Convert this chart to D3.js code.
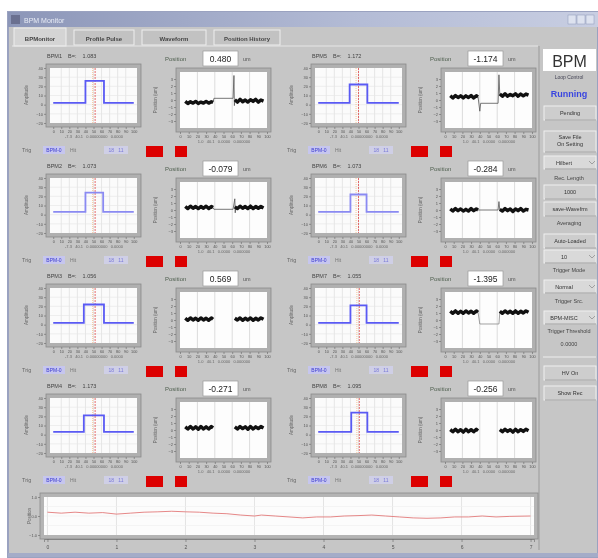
<!DOCTYPE html>
<html>
<head>
<meta charset="utf-8">
<script src="https://cdn.jsdelivr.net/npm/d3@7"></script>
<style>
body { margin: 0; background: #fff; }
svg { display: block; filter: blur(0.4px); }
text { font-family: "Liberation Sans", Arial, sans-serif; }
</style>
</head>
<body>
<div id="chart"></div>
<script>
// ---- data ----
const tabNames = ['BPMonitor', 'Profile Pulse', 'Waveform', 'Position History'];
const bpmNames = ['BPM1', 'BPM5', 'BPM2', 'BPM6', 'BPM3', 'BPM7', 'BPM4', 'BPM8'];
const bpmGain = ['1.083', '1.172', '1.073', '1.073', '1.056', '1.055', '1.173', '1.095'];
const positions = ['0.480', '-1.174', '-0.079', '-0.284', '0.569', '-1.395', '-0.271', '-0.256'];

// profile step (amplitude units), edges in sample units
const profileLow = [2, 2, 3, 3, 2, 2, 3, 3];
const profileHigh = [26, 22, 24, 22, 22, 21, 21, 24];
const riseX = [40, 39, 40, 40, 38, 40, 38, 41];
const fallX = [63, 61, 62, 60, 63, 60, 63, 61];
const markerX = [52, 50, 52, 50, 52, 51, 52, 51];
const profileYTicks = [40, 30, 20, 10, 0, -10, -20];
const profileXTicks = [0, 10, 20, 30, 40, 50, 60, 70, 80, 90, 100];

// position traces (um)
const leftX = [6, 9, 12, 15, 18, 21, 24, 27, 30, 33, 36, 38];
const rightX = [63, 66, 69, 72, 75, 78, 81, 84, 87, 90, 93, 96];
const posLeft = [
  [-0.2, -0.5, -0.25, -0.45, -0.2, -0.5, -0.3, -0.45, -0.2, -0.45, -0.25, -0.35],
  [0.6, 0.3, 0.65, 0.35, 0.6, 0.3, 0.6, 0.35, 0.65, 0.3, 0.6, 0.45],
  [0.5, 0.2, 0.55, 0.25, 0.5, 0.2, 0.5, 0.25, 0.55, 0.2, 0.5, 0.35],
  [0.15, -0.15, 0.2, -0.1, 0.15, -0.15, 0.1, -0.15, 0.2, -0.1, 0.15, 0.0],
  [0.25, -0.05, 0.3, 0.0, 0.25, -0.05, 0.3, 0.0, 0.25, -0.05, 0.3, 0.1],
  [1.25, 0.95, 1.3, 0.95, 1.25, 0.95, 1.3, 1.0, 1.25, 0.95, 1.3, 1.1],
  [0.45, 0.15, 0.5, 0.15, 0.45, 0.1, 0.5, 0.15, 0.45, 0.15, 0.5, 0.3],
  [0.05, -0.25, 0.1, -0.25, 0.05, -0.3, 0.1, -0.25, 0.05, -0.25, 0.1, -0.1]
];
const posRight = [
  [0.05, -0.3, 0.1, -0.25, 0.0, -0.3, 0.05, -0.2, 0.1, -0.3, 0.0, -0.15],
  [0.85, 0.55, 0.9, 0.55, 0.8, 0.6, 0.9, 0.55, 0.85, 0.6, 0.85, 0.7],
  [0.45, 0.2, 0.55, 0.25, 0.5, 0.2, 0.55, 0.2, 0.5, 0.25, 0.5, 0.3],
  [0.1, -0.15, 0.2, -0.1, 0.15, -0.2, 0.15, -0.1, 0.2, -0.15, 0.1, 0.0],
  [0.25, 0.0, 0.3, -0.05, 0.25, 0.0, 0.3, -0.05, 0.25, 0.0, 0.3, 0.1],
  [1.25, 0.95, 1.3, 1.0, 1.25, 0.95, 1.3, 0.95, 1.25, 1.0, 1.3, 1.1],
  [0.45, 0.15, 0.5, 0.2, 0.45, 0.1, 0.5, 0.15, 0.45, 0.2, 0.5, 0.3],
  [0.05, -0.25, 0.1, -0.2, 0.05, -0.3, 0.1, -0.25, 0.05, -0.2, 0.1, -0.1]
];
// thin trace between the two beam segments ([sample, um])
const posBridge = [
  [[38, -0.33], [39, 0.24], [61, 0.24], [62, 3.5], [62.5, -0.8], [63, -0.1]],
  [[38, 0.45], [40, -1.6], [41, -0.47], [61, -0.47], [62, 3.6], [63, 0.7]],
  [[38, 0.35], [39, 0.1], [61, 0.1], [63, 1.6], [63.5, -0.4], [64, 0.35]],
  [[38, 0.0], [61, 0.0], [62, 1.2], [63, 0.0]],
  [],
  [[38, 1.1], [40, -0.57], [62, -0.57], [63, 1.1]],
  [],
  []
];
const posYTicks = [3, 2, 1, 0, -1, -2, -3];
const posXTicks = [0, 10, 20, 30, 40, 50, 60, 70, 80, 90, 100];

// history strip at the bottom
const histX = [0, 0.2, 0.4, 0.6, 0.8, 1.0, 1.2, 1.4, 1.6, 1.8, 2.0, 2.2, 2.4, 2.6, 2.8, 3.0,
  3.1, 3.3, 3.5, 3.7, 3.9, 4.1, 4.3, 4.5, 4.7, 4.9, 5.1, 5.3, 5.5, 5.7, 5.9, 6.1, 6.3, 6.5, 6.7, 7.0];
const histY = [0.2, 0.15, 0.2, 0.15, 0.18, 0.1, 0.15, 0.2, 0.22, 0.25, 0.22, 0.2, 0.15, 0.12, 0.05, 0.0,
  0.05, 0.0, -0.05, -0.1, -0.05, -0.05, 0.0, 0.02, 0.05, 0.0, -0.05, -0.1, -0.12, -0.1, -0.05, -0.05, 0.0, -0.05, -0.02, 0.0];
const histTicks = [0, 1, 2, 3, 4, 5, 6, 7];

// side controls
const sideItems = [
  ['button', 'Pending'], ['button2', 'Save File|On Setting'], ['combo', 'Hilbert'],
  ['label', 'Rec. Length'], ['button', '1000'], ['button', 'save-Wavefrm'],
  ['label', 'Averaging'], ['button', 'Auto-Loaded'], ['combo', '10'],
  ['label', 'Trigger Mode'], ['combo', 'Normal'], ['label', 'Trigger Src.'],
  ['combo', 'BPM-MISC'], ['label', 'Trigger Threshold'], ['label', '0.0000'],
  ['sep', ''], ['button', 'HV On'], ['button', 'Show Rec']
];
const sideY = [106, 131, 156, 180, 185, 202, 225, 234, 250, 272, 280, 303, 311, 333, 346, 357, 366, 386];

const W = 598, H = 558;
const svg = d3.select('#chart').append('svg').attr('width', W).attr('height', H);

const defs = svg.append('defs');
const tg = defs.append('linearGradient').attr('id', 'titleGrad');
tg.append('stop').attr('offset', '0%').attr('stop-color', '#8c96b8');
tg.append('stop').attr('offset', '60%').attr('stop-color', '#b4bcd6');
tg.append('stop').attr('offset', '100%').attr('stop-color', '#c8cee2');

// window
svg.append('rect').attr('width', W).attr('height', H).attr('fill', '#fff');
svg.append('rect').attr('x', 8).attr('y', 12).attr('width', 590).attr('height', 545)
  .attr('fill', '#c6c6c6').attr('stroke', '#9aa2c0').attr('stroke-width', 2);
svg.append('rect').attr('x', 8).attr('y', 12).attr('width', 590).attr('height', 15).attr('fill', 'url(#titleGrad)');
svg.append('text').attr('x', 24).attr('y', 23).attr('font-size', 7).attr('fill', '#e8ecf6').text('BPM Monitor');
svg.append('rect').attr('x', 11).attr('y', 15).attr('width', 9).attr('height', 9).attr('fill', '#6a7090');
[572, 581, 590].forEach(x => svg.append('rect').attr('x', x - 4).attr('y', 15).attr('width', 8).attr('height', 9)
  .attr('fill', '#dde2ef').attr('stroke', '#8c96b8').attr('stroke-width', 0.5));
svg.append('rect').attr('x', 8).attr('y', 553).attr('width', 590).attr('height', 4).attr('fill', '#a4acc8');

// tabs
const tabW = [56, 64, 68, 70];
let tx = 14;
tabNames.forEach((t, i) => {
  const active = i === 0;
  svg.append('rect').attr('x', tx).attr('y', active ? 28 : 30).attr('width', tabW[i] - 4).attr('height', active ? 18 : 15)
    .attr('fill', active ? '#d4d4d4' : '#c2c2c2').attr('stroke', '#eee').attr('stroke-width', 1);
  svg.append('text').attr('x', tx + (tabW[i] - 4) / 2).attr('y', 41).attr('text-anchor', 'middle')
    .attr('font-size', 6).attr('font-weight', 'bold').attr('fill', '#444').text(t);
  tx += tabW[i] + 4;
});
svg.append('line').attr('x1', 12).attr('x2', 538).attr('y1', 46).attr('y2', 46).attr('stroke', '#e6e6e6');
svg.append('line').attr('x1', 539).attr('x2', 539).attr('y1', 46).attr('y2', 550).attr('stroke', '#9a9a9a');

function styleAxis(a, size) {
  a.selectAll('path').attr('stroke', '#666').attr('stroke-width', 0.6);
  a.selectAll('line').attr('stroke', '#666').attr('stroke-width', 0.6);
  a.selectAll('text').attr('font-size', size).attr('fill', '#555');
}

function drawPanel(i) {
  const dx = (i % 2) * 265, dy = Math.floor(i / 2) * 110;
  const g = svg.append('g').attr('transform', `translate(${dx},${dy})`);

  g.append('text').attr('x', 47).attr('y', 58).attr('font-size', 5.5).attr('fill', '#444')
    .attr('xml:space', 'preserve').text(`${bpmNames[i]}    B=:    ${bpmGain[i]}`);

  // ---- profile graph ----
  g.append('rect').attr('x', 46).attr('y', 64).attr('width', 95).attr('height', 63)
    .attr('fill', '#b0b0b0').attr('stroke', '#8a8a8a').attr('stroke-width', 0.8);
  g.append('rect').attr('x', 50).attr('y', 68).attr('width', 87).attr('height', 55).attr('fill', '#fbfbfb');
  const px = d3.scaleLinear().domain([-4, 104]).range([50, 137]);
  const py = d3.scaleLinear().domain([-20, 40]).range([123, 68]);

  g.append('g').selectAll('line').data(profileXTicks.slice(1, -1)).join('line')
    .attr('x1', d => px(d)).attr('x2', d => px(d)).attr('y1', 68).attr('y2', 123)
    .attr('stroke', '#d8d8d8').attr('stroke-width', 0.6);
  g.append('g').selectAll('line').data(profileYTicks.slice(1, -1)).join('line')
    .attr('x1', 50).attr('x2', 137).attr('y1', d => py(d)).attr('y2', d => py(d))
    .attr('stroke', '#e6e6e6').attr('stroke-width', 0.6);

  const ay = g.append('g').attr('transform', 'translate(46,0)')
    .call(d3.axisLeft(py).tickValues(profileYTicks).tickSize(2).tickPadding(1));
  styleAxis(ay, 4);
  ay.select('path').remove();
  g.append('text').attr('transform', `translate(28,${95}) rotate(-90)`).attr('text-anchor', 'middle')
    .attr('font-size', 4.5).attr('fill', '#666').text('Amplitude');
  const ax = g.append('g').attr('transform', 'translate(0,127)')
    .call(d3.axisBottom(px).tickValues(profileXTicks).tickSize(2).tickPadding(1));
  styleAxis(ax, 3.8);
  ax.select('path').remove();
  g.append('text').attr('x', 94).attr('y', 138).attr('text-anchor', 'middle').attr('font-size', 4)
    .attr('fill', '#666').attr('xml:space', 'preserve').text('-7.3   40.1   0.00000000   0.0000');

  g.append('line').attr('x1', px(markerX[i] - 3)).attr('x2', px(markerX[i] - 3)).attr('y1', 68).attr('y2', 123)
    .attr('stroke', '#f0b070').attr('stroke-width', 0.7).attr('stroke-dasharray', '1,1');
  g.append('line').attr('x1', px(markerX[i])).attr('x2', px(markerX[i])).attr('y1', 68).attr('y2', 123)
    .attr('stroke', '#e04848').attr('stroke-width', 0.8).attr('stroke-dasharray', '2,1');

  const step = [[0, profileLow[i]], [riseX[i], profileLow[i]], [riseX[i], profileHigh[i]],
    [fallX[i], profileHigh[i]], [fallX[i], profileLow[i]], [100, profileLow[i]]];
  g.append('path').datum(step)
    .attr('d', d3.line().x(d => px(d[0])).y(d => py(d[1])))
    .attr('fill', 'none').attr('stroke', i === 2 || i === 3 ? '#8a8af2' : '#5a5af4').attr('stroke-width', 1.8);

  // ---- position readout ----
  g.append('text').attr('x', 165).attr('y', 61).attr('font-size', 6).attr('fill', '#4f5f4f').text('Position');
  g.append('rect').attr('x', 203).attr('y', 51).attr('width', 35).attr('height', 15)
    .attr('fill', '#fff').attr('stroke', '#999').attr('stroke-width', 0.7);
  g.append('text').attr('x', 220.5).attr('y', 62).attr('text-anchor', 'middle').attr('font-size', 8.5)
    .attr('fill', '#222').text(positions[i]);
  g.append('text').attr('x', 243).attr('y', 61).attr('font-size', 5.5).attr('fill', '#555').text('um');

  // ---- position graph ----
  g.append('rect').attr('x', 176).attr('y', 68).attr('width', 95).attr('height', 64)
    .attr('fill', '#b0b0b0').attr('stroke', '#8a8a8a').attr('stroke-width', 0.8);
  g.append('rect').attr('x', 180).attr('y', 72).attr('width', 87).attr('height', 56).attr('fill', '#fdfdfd');
  const qx = d3.scaleLinear().domain([0, 100]).range([180, 267]);
  const qy = d3.scaleLinear().domain([-4, 4]).range([128, 72]);

  g.append('g').selectAll('line').data([20, 40, 60, 80]).join('line')
    .attr('x1', d => qx(d)).attr('x2', d => qx(d)).attr('y1', 72).attr('y2', 128)
    .attr('stroke', '#cfcfcf').attr('stroke-width', 0.7);
  const by = g.append('g').attr('transform', 'translate(176,0)')
    .call(d3.axisLeft(qy).tickValues(posYTicks).tickSize(2).tickPadding(1));
  styleAxis(by, 4);
  by.select('path').remove();
  g.append('text').attr('transform', `translate(157,100) rotate(-90)`).attr('text-anchor', 'middle')
    .attr('font-size', 4.5).attr('fill', '#666').text('Position (um)');
  const bx = g.append('g').attr('transform', 'translate(0,132)')
    .call(d3.axisBottom(qx).tickValues(posXTicks).tickSize(2).tickPadding(1));
  styleAxis(bx, 3.8);
  bx.select('path').remove();
  g.append('text').attr('x', 224).attr('y', 143).attr('text-anchor', 'middle').attr('font-size', 4)
    .attr('fill', '#666').attr('xml:space', 'preserve').text('1.0   40.1   0.0000   0.000000');

  const ln = d3.line().x(d => qx(d[0])).y(d => qy(d[1]));
  if (posBridge[i].length) {
    g.append('path').datum(posBridge[i]).attr('d', ln).attr('fill', 'none')
      .attr('stroke', i === 5 ? '#8a8a8a' : '#555').attr('stroke-width', 0.8);
  }
  [[leftX, posLeft[i]], [rightX, posRight[i]]].forEach(([xs, ys]) => {
    g.append('path').datum(xs.map((x, k) => [x, ys[k]])).attr('d', ln).attr('fill', 'none')
      .attr('stroke', '#111').attr('stroke-width', 3.4).attr('stroke-linejoin', 'round');
  });

  // ---- trigger row ----
  g.append('text').attr('x', 22).attr('y', 152).attr('font-size', 5.5).attr('fill', '#666').text('Trig');
  g.append('rect').attr('x', 43).attr('y', 146).attr('width', 22).attr('height', 8).attr('fill', '#c6c6ee');
  g.append('text').attr('x', 54).attr('y', 152).attr('text-anchor', 'middle').attr('font-size', 5).attr('fill', '#3a3ad0').text('BPM-0');
  g.append('text').attr('x', 70).attr('y', 152).attr('font-size', 5).attr('fill', '#777').text('Hit');
  g.append('rect').attr('x', 104).attr('y', 146).attr('width', 24).attr('height', 8).attr('fill', '#cfcfe6');
  g.append('text').attr('x', 116).attr('y', 152).attr('text-anchor', 'middle').attr('font-size', 5)
    .attr('fill', '#7a7ad8').attr('xml:space', 'preserve').text('18   11');
  g.append('rect').attr('x', 146).attr('y', 146).attr('width', 17).attr('height', 11).attr('fill', '#dc0000');
  g.append('rect').attr('x', 175).attr('y', 146).attr('width', 12).attr('height', 11).attr('fill', '#dc0000');
}

for (let i = 0; i < 8; i++) drawPanel(i);

// ---- side panel ----
svg.append('rect').attr('x', 543).attr('y', 49).attr('width', 53).attr('height', 22).attr('fill', '#fff');
svg.append('text').attr('x', 569.5).attr('y', 67).attr('text-anchor', 'middle').attr('font-size', 16)
  .attr('font-family', '"Liberation Serif", serif').attr('fill', '#333').text('BPM');
svg.append('text').attr('x', 569).attr('y', 79).attr('text-anchor', 'middle').attr('font-size', 5).attr('fill', '#445').text('Loop Control');
svg.append('text').attr('x', 569).attr('y', 97).attr('text-anchor', 'middle').attr('font-size', 9)
  .attr('font-weight', 'bold').attr('fill', '#3a46e0').text('Running');

sideItems.forEach(([kind, label], k) => {
  const y = sideY[k];
  if (kind === 'label') {
    svg.append('text').attr('x', 569).attr('y', y).attr('text-anchor', 'middle').attr('font-size', 5.5)
      .attr('fill', '#444').text(label);
  } else if (kind === 'sep') {
    svg.append('line').attr('x1', 543).attr('x2', 596).attr('y1', y).attr('y2', y).attr('stroke', '#eee');
  } else {
    const h = kind === 'button2' ? 21 : (kind === 'combo' ? 13 : 14);
    svg.append('rect').attr('x', 544).attr('y', y).attr('width', 52).attr('height', h)
      .attr('fill', kind === 'combo' ? '#d9d9d9' : '#cdcdcd').attr('stroke', '#efefef').attr('stroke-width', 1);
    svg.append('line').attr('x1', 545).attr('x2', 596).attr('y1', y + h).attr('y2', y + h).attr('stroke', '#999');
    const lines = label.split('|');
    lines.forEach((t, j) => svg.append('text').attr('x', kind === 'combo' ? 564 : 570)
      .attr('y', y + (lines.length > 1 ? 8 + j * 7 : h / 2 + 2)).attr('text-anchor', 'middle')
      .attr('font-size', 5.5).attr('fill', '#333').text(t));
    if (kind === 'combo') {
      svg.append('path').attr('d', `M589,${y + 5}l3,3l3,-3`).attr('fill', 'none').attr('stroke', '#777').attr('stroke-width', 0.6);
    }
  }
});

// ---- history strip ----
svg.append('rect').attr('x', 40).attr('y', 493).attr('width', 498).attr('height', 46)
  .attr('fill', '#b4b4b4').attr('stroke', '#8a8a8a').attr('stroke-width', 0.8);
svg.append('rect').attr('x', 44).attr('y', 497).attr('width', 490).attr('height', 38).attr('fill', '#fcfcfc');
const hx = d3.scaleLinear().domain([-0.05, 7.05]).range([44, 534]);
const hy = d3.scaleLinear().domain([-1, 1]).range([535, 497]);
svg.append('g').selectAll('line').data(histTicks).join('line')
  .attr('x1', d => hx(d)).attr('x2', d => hx(d)).attr('y1', 497).attr('y2', 535)
  .attr('stroke', '#dadada').attr('stroke-width', 0.7);
svg.append('g').selectAll('line').data([-0.5, 0, 0.5]).join('line')
  .attr('x1', 44).attr('x2', 534).attr('y1', d => hy(d)).attr('y2', d => hy(d))
  .attr('stroke', '#eeeeee').attr('stroke-width', 0.6);
const hax = svg.append('g').attr('transform', 'translate(0,539)')
  .call(d3.axisBottom(hx).tickValues(histTicks).tickSize(3).tickPadding(3));
styleAxis(hax, 5);
const hay = svg.append('g').attr('transform', 'translate(40,0)')
  .call(d3.axisLeft(hy).tickValues([-1, 0, 1]).tickSize(2).tickPadding(1));
styleAxis(hay, 4);
hay.select('path').remove();
svg.append('text').attr('transform', 'translate(31,516) rotate(-90)').attr('text-anchor', 'middle')
  .attr('font-size', 4.5).attr('fill', '#666').text('Position');
svg.append('path').datum(histX.map((x, k) => [x, histY[k]]))
  .attr('d', d3.line().x(d => hx(d[0])).y(d => hy(d[1])))
  .attr('fill', 'none').attr('stroke', '#e06a6a').attr('stroke-width', 0.8);
</script>
</body>
</html>
